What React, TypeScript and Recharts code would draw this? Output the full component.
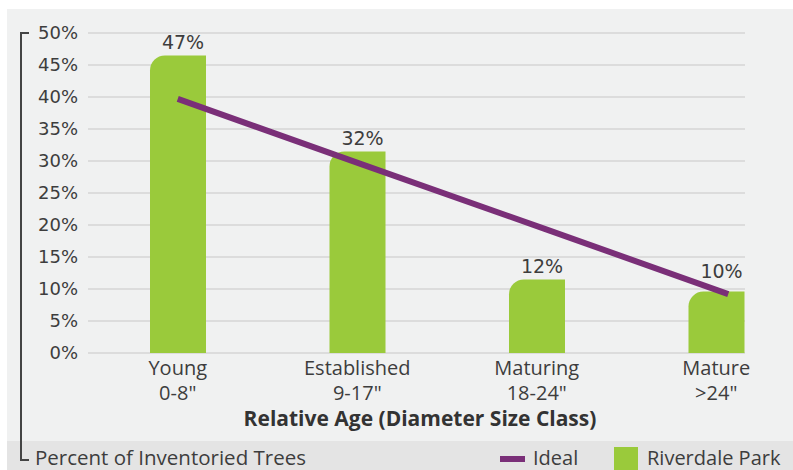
import { Bar, CartesianGrid, ComposedChart, LabelList, Line, XAxis, YAxis } from 'recharts'

// age classes along the bottom, with their diameter ranges on a second line
const categories = ['Young', 'Established', 'Maturing', 'Mature']
const sizeClasses = ['0-8"', '9-17"', '18-24"', '>24"']

// percent of inventoried trees per class
const riverdaleValues = [46.5, 31.5, 11.5, 9.6]
const idealValues = [39.7, 29.5, 19.4, 9.2]

const yTicks = [0, 5, 10, 15, 20, 25, 30, 35, 40, 45, 50]

const GREEN = '#9aca3b'
const PURPLE = '#7a2f78'
const TEXT = '#3d3d3d'
const FONT = '"Open Sans", "DejaVu Sans", sans-serif'
const NUM_FONT = '"DejaVu Sans", sans-serif'

const data = categories.map((name, i) => ({
  name,
  size: sizeClasses[i],
  riverdale: riverdaleValues[i],
  ideal: idealValues[i],
}))

function CategoryTick({ x, y, payload, index }: any) {
  return (
    <g>
      <text x={x} y={y + 14} textAnchor="middle" fill={TEXT} fontSize={20} fontFamily={FONT}>
        {payload.value}
      </text>
      <text x={x} y={y + 39} textAnchor="middle" fill={TEXT} fontSize={20} fontFamily={FONT}>
        {sizeClasses[index]}
      </text>
    </g>
  )
}

function ValueLabel({ x, y, width, value, index }: any) {
  // the last label sits a little higher so the ideal line does not run into it
  const lift = index === 3 ? 8 : 0
  return (
    <text x={x + width / 2 + 5} y={y - 6 - lift} textAnchor="middle" fill={TEXT} fontSize={19} fontFamily={NUM_FONT}>
      {`${Math.round(Number(value))}%`}
    </text>
  )
}

export default function App() {
  return (
    <div style={{ position: 'absolute', left: 0, top: 0, width: 793, height: 470, background: '#fff', fontFamily: FONT, overflow: 'hidden' }}>
      <div style={{ position: 'absolute', left: 7, top: 9, width: 786, height: 432, background: '#f0f1f1' }} />
      <div style={{ position: 'absolute', left: 7, top: 441, width: 786, height: 29, background: '#e4e4e4' }} />

      {/* bracket for the y axis title */}
      <div style={{ position: 'absolute', left: 20, top: 32, width: 9, height: 429, borderLeft: '2px solid #444', borderTop: '2px solid #444', borderBottom: '2px solid #444', boxSizing: 'border-box' }} />
      <div style={{ position: 'absolute', left: 35, top: 444, fontSize: 20.5, color: TEXT, lineHeight: '26px', whiteSpace: 'nowrap' }}>
        Percent of Inventoried Trees
      </div>

      <div style={{ position: 'absolute', left: 0, top: 0 }}>
        <ComposedChart width={793} height={440} data={data} margin={{ top: 33, right: 48, bottom: 27, left: 8 }}>
          <CartesianGrid stroke="#dcdcdc" strokeWidth={2} vertical={false} />
          <XAxis
            dataKey="name"
            axisLine={false}
            tickLine={false}
            height={60}
            interval={0}
            padding={{ left: 0, right: -61 }}
            tick={<CategoryTick />}
          />
          <XAxis xAxisId="ideal" dataKey="name" hide padding={{ left: -2, right: -75 }} />
          <YAxis
            domain={[0, 50]}
            ticks={yTicks}
            axisLine={false}
            tickLine={false}
            width={80}
            dx={-2}
            tickFormatter={(v: number) => `${v}%`}
            tick={{ fill: TEXT, fontSize: 18, fontFamily: NUM_FONT }}
          />
          <Bar dataKey="riverdale" fill={GREEN} barSize={56} radius={[15, 0, 0, 0]} isAnimationActive={false}>
            <LabelList dataKey="riverdale" content={<ValueLabel />} />
          </Bar>
          <Line xAxisId="ideal" dataKey="ideal" type="linear" stroke={PURPLE} strokeWidth={6} dot={false} isAnimationActive={false} />
        </ComposedChart>
      </div>

      <div style={{ position: 'absolute', left: 220, top: 408, width: 400, textAlign: 'center', fontSize: 21, lineHeight: '21px', fontWeight: 700, color: '#333', whiteSpace: 'nowrap' }}>
        Relative Age (Diameter Size Class)
      </div>

      {/* legend */}
      <div style={{ position: 'absolute', left: 500, top: 456, width: 25, height: 6, background: PURPLE }} />
      <div style={{ position: 'absolute', left: 533, top: 445, fontSize: 20, color: TEXT, lineHeight: '26px' }}>Ideal</div>
      <div style={{ position: 'absolute', left: 614, top: 447, width: 24, height: 23, background: GREEN }} />
      <div style={{ position: 'absolute', left: 647, top: 445, fontSize: 20, color: TEXT, lineHeight: '26px', whiteSpace: 'nowrap' }}>Riverdale Park</div>
    </div>
  )
}
